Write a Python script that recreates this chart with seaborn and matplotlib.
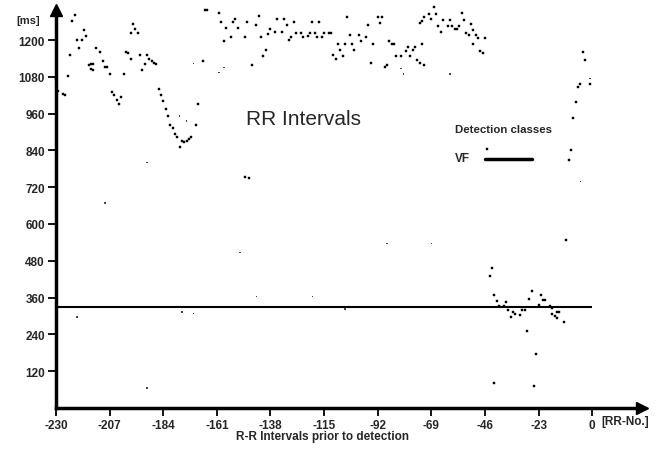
import matplotlib
matplotlib.use('Agg')
import matplotlib.pyplot as plt
import seaborn as sns
import pandas as pd

# RR intervals (beat number relative to detection, interval in ms)
rr_beat = [
    -230, -229, -227, -226, -225, -224, -223, -222, -221, -219, -220, -218, -217, -216, -215, -214,
    -215, -214, -213, -211, -210, -209, -208, -207, -206, -205, -204, -203, -202, -201, -200, -199,
    -198, -197, -196, -198, -195, -194, -193, -192, -191, -190, -189, -188, -187, -186, -185, -184,
    -183, -182, -181, -180, -179, -178, -177, -176, -175, -174, -173, -172, -170, -169, -167, -166,
    -165, -160, -159, -158, -157, -155, -154, -153, -152, -149, -148, -146, -144, -143, -142, -141,
    -140, -139, -138, -136, -135, -132, -133, -131, -130, -129, -128, -127, -125, -124, -122, -121,
    -120, -119, -118, -117, -115, -116, -113, -112, -111, -110, -109, -108, -107, -106, -105, -104,
    -103, -102, -100, -99, -97, -96, -95, -94, -92, -90, -91, -89, -88, -87, -86, -85,
    -84, -82, -80, -79, -78, -77, -76, -75, -74, -73, -72,
    -74, -73, -72, -70, -68, -67, -69, -66, -65, -64, -62, -61, -60, -59, -58, -57,
    -56, -55, -54, -53, -52, -51, -50, -49, -46, -51, -48, -47, -45,
    -44, -43, -42, -41, -40, -38, -37, -36, -35, -34, -33, -31, -30, -29, -28, -27,
    -26, -25, -24, -23, -22, -21, -20, -18, -17, -17, -16, -15, -15, -14, -12, -11,
    -10, -9, -8, -7, -6, -5, -4, -3, -1, -42, -149, -147,
]
rr_ms = [
    1073, 1035, 1024, 1022, 1082, 1152, 1263, 1283, 1201, 1201, 1173, 1233, 1214, 1119, 1122, 1122,
    1105, 1102, 1173, 1162, 1133, 1113, 1111, 1091, 1031, 1021, 1005, 991, 1013, 1091, 1163, 1158,
    1140, 1252, 1238, 1222, 1222, 1151, 1103, 1122, 1151, 1140, 1132, 1125, 1122, 1042, 1022, 1002,
    975, 953, 923, 912, 893, 883, 850, 871, 868, 871, 877, 883, 923, 991, 1131, 1299,
    1299, 1290, 1258, 1198, 1239, 1209, 1258, 1269, 1239, 1209, 1258, 1118, 1250, 1279, 1209, 1149,
    1167, 1220, 1238, 1228, 1269, 1269, 1228, 1250, 1200, 1209, 1258, 1222, 1222, 1209, 1214, 1222,
    1258, 1225, 1209, 1258, 1222, 1209, 1222, 1222, 1151, 1140, 1189, 1167, 1149, 1189, 1277, 1217,
    1189, 1167, 1217, 1196, 1209, 1249, 1127, 1189, 1277, 1277, 1255, 1114, 1119, 1196, 1187, 1187,
    1147, 1149, 1165, 1178, 1147, 1167, 1178, 1136, 1127, 1187, 1119,
    1255, 1263, 1277, 1285, 1307, 1285, 1268, 1247, 1228, 1266, 1247, 1266, 1247, 1238, 1238, 1247,
    1288, 1266, 1225, 1217, 1254, 1234, 1217, 1207, 1207, 1187, 1165, 1157, 844,
    431, 456, 369, 348, 333, 331, 344, 319, 295, 312, 306, 303, 320, 320, 252, 355,
    380, 72, 176, 335, 368, 353, 353, 331, 326, 306, 301, 293, 314, 314, 279, 548,
    809, 842, 945, 997, 1046, 1056, 1162, 1136, 1056, 81, 754, 751,
]

# faint single-pixel dots
faint_beat = [-221, -176, -171, -191, -191, -209, -177, -174, -171, -160, -158, -151,
              -144, -120, -88, -69, -106, -82, -81, -61, -5, -1]
faint_ms = [297, 313, 308, 64, 801, 668, 953, 937, 1124, 1095, 1111, 507,
            363, 363, 537, 537, 322, 1108, 1089, 1089, 738, 1075]

# detection class line
vf_level = 329
vf_start, vf_end = -230, 0

x_ticks = [-230, -207, -184, -161, -138, -115, -92, -69, -46, -23, 0]
y_ticks = [120, 240, 360, 480, 600, 720, 840, 960, 1080, 1200]

df = pd.DataFrame({'beat': rr_beat, 'ms': rr_ms})
df_faint = pd.DataFrame({'beat': faint_beat, 'ms': faint_ms})

sns.set_theme(style='white')
plt.rcParams['font.family'] = ['Liberation Sans Narrow', 'Liberation Sans', 'DejaVu Sans']
plt.rcParams['font.weight'] = 'bold'

fig = plt.figure(figsize=(6.57, 4.52), dpi=100)
ax = fig.add_axes([0.0852, 0.0956, 0.887, 0.881])

ax.hlines(vf_level, vf_start, vf_end, color='black', linewidth=1.5, zorder=1)

sns.scatterplot(data=df, x='beat', y='ms', marker='s', s=4, color='black',
                edgecolor='black', linewidth=0.3, ax=ax, zorder=2, clip_on=False)
sns.scatterplot(data=df_faint, x='beat', y='ms', marker='s', s=1.2, color='#444444',
                edgecolor='none', ax=ax, zorder=2, clip_on=False)

ax.set_xlim(-230, 20)
ax.set_ylim(0, 1300)
ax.set_xticks(x_ticks)
ax.set_xticklabels([str(t) for t in x_ticks])
ax.set_yticks(y_ticks)
ax.set_yticklabels([str(t) for t in y_ticks])
ax.tick_params(axis='both', direction='out', length=6, width=1.3, color='black',
               labelsize=8.5, pad=2, bottom=True, left=True)
for lab in ax.get_xticklabels() + ax.get_yticklabels():
    lab.set_fontweight('bold')

for side in ['top', 'right']:
    ax.spines[side].set_visible(False)
for side in ['left', 'bottom']:
    ax.spines[side].set_linewidth(2.5)
    ax.spines[side].set_color('black')

# axis arrows
ax.plot(1.005, 0, marker='>', markersize=9, color='black', transform=ax.transAxes, clip_on=False)
ax.plot(0, 1.0, marker='^', markersize=8, color='black', transform=ax.transAxes, clip_on=False)

ax.set_xlabel('')
ax.set_ylabel('')
fig.text(0.4916, 0.033, 'R-R Intervals prior to detection', fontsize=8.5, fontweight='bold',
         ha='center', va='center')
ax.text(-0.027, 0.975, '[ms]', transform=ax.transAxes, fontsize=8, fontweight='bold',
        ha='right', va='center')
ax.text(4, -24, '[RR-No.]', fontsize=8.5, fontweight='bold', ha='left', va='top', clip_on=False)

ax.text(-124, 945, 'RR Intervals', fontsize=15, fontweight='normal',
        family=['Liberation Sans', 'DejaVu Sans'], ha='center', va='center')
ax.text(-59, 910, 'Detection classes', fontsize=8.2, fontweight='bold', ha='left', va='center')
ax.text(-59, 816, 'VF', fontsize=8.5, fontweight='bold', ha='left', va='center')
ax.plot([-46, -26], [811, 811], color='black', linewidth=2.5)

fig.savefig('out.png', dpi=100)
